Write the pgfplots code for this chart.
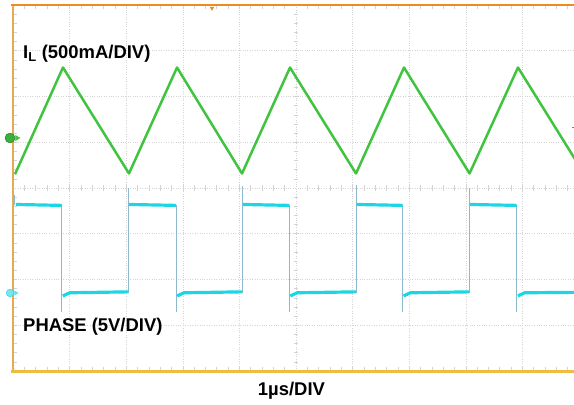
\documentclass[border=0pt]{standalone}
\usepackage{pgfplots}
\pgfplotsset{compat=1.18}
\usepackage{fontspec}
\setmainfont{Liberation Sans}
\definecolor{trgreen}{RGB}{64,196,64}
\definecolor{trcyan}{RGB}{28,214,228}
\definecolor{edgeblue}{RGB}{140,185,205}
\definecolor{topor}{RGB}{240,140,30}
\definecolor{leftor}{RGB}{232,170,80}
\definecolor{botor}{RGB}{240,188,64}
\definecolor{gridg}{RGB}{212,212,212}
\begin{document}
\begin{tikzpicture}[x=1bp,y=1bp]
\begin{axis}[
  at={(13bp,33bp)}, anchor=south west, scale only axis,
  width=566bp, height=366bp,
  xmin=0, xmax=10, ymin=-4, ymax=4,
  xtick={1,...,9}, ytick={-3,...,3},
  xticklabels={}, yticklabels={},
  major tick length=0pt,
  grid=major,
  major grid style={gridg, dotted, line width=0.6pt},
  axis line style={draw=none},
  clip=false,
  unbounded coords=jump,
]
% center cross and border minor ticks
\pgfplotsinvokeforeach{0.2,0.4,0.6,0.8,1.2,1.4,1.6,1.8,2.2,2.4,2.6,2.8,3.2,3.4,3.6,3.8,4.2,4.4,4.6,4.8,5.2,5.4,5.6,5.8,6.2,6.4,6.6,6.8,7.2,7.4,7.6,7.8,8.2,8.4,8.6,8.8,9.2,9.4,9.6,9.8,1,2,3,4,6,7,8,9}{
  \draw[gridg, line width=0.6pt] (axis cs:#1,-0.055) -- (axis cs:#1,0.055);
  \draw[gridg, line width=0.6pt] (axis cs:#1,4) -- (axis cs:#1,3.91);
  \draw[gridg, line width=0.6pt] (axis cs:#1,-4) -- (axis cs:#1,-3.91);
}
\pgfplotsinvokeforeach{-3.8,-3.6,-3.4,-3.2,-2.8,-2.6,-2.4,-2.2,-1.8,-1.6,-1.4,-1.2,-0.8,-0.6,-0.4,-0.2,0.2,0.4,0.6,0.8,1.2,1.4,1.6,1.8,2.2,2.4,2.6,2.8,3.2,3.4,3.6,3.8,-3,-2,-1,1,2,3}{
  \draw[gridg, line width=0.6pt] (axis cs:4.956,#1) -- (axis cs:5.044,#1);
  \draw[gridg, line width=0.6pt] (axis cs:0,#1) -- (axis cs:0.07,#1);
}

% inductor current
\addplot[trgreen, line width=2.5pt, line join=round] coordinates {
(0.035,0.30) (0.883,2.634) (2.049,0.317) (2.898,2.634) (4.046,0.317)
(4.894,2.634) (6.060,0.317) (6.908,2.634) (8.066,0.317) (8.922,2.634) (10.0,0.49)};

% phase node: switching edges
\addplot[edgeblue, line width=1pt] coordinates {
(0.035,-0.15) (0.035,-0.372) (nan,nan)
(0.862,-0.372) (0.862,-2.70) (nan,nan)
(2.038,-2.295) (2.038,0.0) (nan,nan)
(2.880,-0.372) (2.880,-2.70) (nan,nan)
(4.046,-2.295) (4.046,0.05) (nan,nan)
(4.882,-0.372) (4.882,-2.70) (nan,nan)
(6.060,-2.295) (6.060,0.07) (nan,nan)
(6.885,-0.372) (6.885,-2.70) (nan,nan)
(8.062,-2.295) (8.062,0.0) (nan,nan)
(8.899,-0.372) (8.899,-2.70)};

% phase node: flat levels
\addplot[trcyan, line width=3.2pt] coordinates {
(0.05,-0.36) (0.862,-0.38) (nan,nan)
(2.05,-0.36) (2.880,-0.38) (nan,nan)
(4.06,-0.36) (4.882,-0.38) (nan,nan)
(6.07,-0.36) (6.885,-0.38) (nan,nan)
(8.07,-0.36) (8.899,-0.38) (nan,nan)
(0.88,-2.36) (1.00,-2.29) (2.038,-2.27) (nan,nan)
(2.90,-2.36) (3.02,-2.29) (4.046,-2.27) (nan,nan)
(4.90,-2.36) (5.02,-2.29) (6.060,-2.27) (nan,nan)
(6.90,-2.36) (7.02,-2.29) (8.062,-2.27) (nan,nan)
(8.92,-2.36) (9.04,-2.29) (10.0,-2.28)};

% frame
\draw[leftor, line width=3pt] (rel axis cs:0,0) -- (rel axis cs:0,1);
\draw[topor, line width=2pt] (rel axis cs:-0.003,1) -- (rel axis cs:1,1);
\draw[botor, line width=3pt] (rel axis cs:-0.003,0) -- (rel axis cs:1,0);

% channel ground markers
\addplot[only marks, mark=triangle*, mark size=3pt, mark options={rotate=-90, fill=trgreen, draw=trgreen}] coordinates {(0.07,1.093)};
\addplot[only marks, mark=*, mark size=5pt, mark options={fill=trgreen!90!black, draw=trgreen!60!black}] coordinates {(-0.053,1.093)};
\addplot[only marks, mark=triangle*, mark size=2.4pt, mark options={rotate=-90, fill=trcyan!70, draw=trcyan!70}] coordinates {(0.05,-2.295)};
\addplot[only marks, mark=*, mark size=3.8pt, mark options={fill=trcyan!60, draw=trcyan}] coordinates {(-0.053,-2.295)};
% trigger markers
\addplot[only marks, mark=triangle*, mark size=2.2pt, mark options={rotate=180, fill=topor, draw=topor}] coordinates {(3.516,3.93)};
\addplot[only marks, mark=-, mark size=3pt, mark options={gray, line width=1.2pt}] coordinates {(9.93,1.33)};

% labels
\node[anchor=base west, inner sep=0pt, font=\bfseries\fontsize{18.5}{20}\selectfont] at (axis cs:0.177,2.83) {I\textsubscript{L} (500mA/DIV)};
\node[anchor=base west, inner sep=0pt, font=\bfseries\fontsize{18.5}{20}\selectfont] at (axis cs:0.177,-3.14) {PHASE (5V/DIV)};
\node[anchor=base, inner sep=0pt, font=\bfseries\fontsize{18.5}{20}\selectfont] at (axis cs:4.92,-4.525) {1µs/DIV};
\end{axis}
\pgfresetboundingbox
\useasboundingbox (0,0) rectangle (574,404);
\end{tikzpicture}
\end{document}
